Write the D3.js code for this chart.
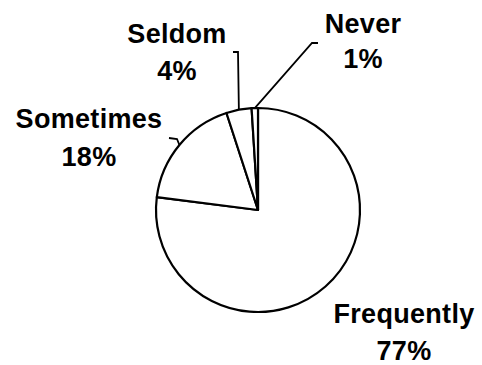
<!DOCTYPE html>
<html>
<head>
<meta charset="utf-8">
<script src="https://cdn.jsdelivr.net/npm/d3@7"></script>
<style>
  body { margin: 0; background: #fff; }
  text { font-family: "Liberation Sans", Arial, sans-serif; font-weight: bold; }
</style>
</head>
<body>
<div id="container"></div>
<script>
const categories = ["Frequently", "Sometimes", "Seldom", "Never"];
const values = [77, 18, 4, 1];
const percentLabels = ["77%", "18%", "4%", "1%"];

const width = 482;
const height = 365;
const cx = 258, cy = 210;
const radius = 102;
const fontSize = 27;

// where each label sits (center x, baseline of first line, line gap)
const labelPos = [
    { x: 404, y: 323, gap: 37 },
    { x: 89, y: 128, gap: 38 },
    { x: 177, y: 43, gap: 37 },
    { x: 363, y: 33, gap: 35 }
];
// leader line bends (from the slice edge outward), null = no leader
const leaderBends = [
    null,
    [[177, 139], [169, 138]],
    [[238, 52], [233, 52]],
    [[312, 43], [318, 43]]
];

let rows = categories.map((c, i) => ({ name: c, value: values[i], pct: percentLabels[i] }));

let pie = d3.pie()
    .sort(null)
    .value(d => d.value)
    .startAngle(0)
    .endAngle(2 * Math.PI);

let arc = d3.arc()
    .innerRadius(0)
    .outerRadius(radius);

let arcs = pie(rows);

let svg = d3.select("#container").append("svg")
    .attr("width", width)
    .attr("height", height);

let g = svg.append("g")
    .attr("transform", `translate(${cx},${cy})`);

g.selectAll("path")
    .data(arcs)
    .join("path")
    .attr("d", arc)
    .attr("fill", "#fff")
    .attr("stroke", "#000")
    .attr("stroke-width", 2.2)
    .attr("stroke-linejoin", "round");

// leader lines
arcs.forEach((a, i) => {
    if (!leaderBends[i]) return;
    let mid = (a.startAngle + a.endAngle) / 2;
    let sx = cx + radius * Math.sin(mid);
    let sy = cy - radius * Math.cos(mid);
    let pts = [[sx, sy]].concat(leaderBends[i]);
    svg.append("path")
        .attr("d", d3.line()(pts))
        .attr("fill", "none")
        .attr("stroke", "#000")
        .attr("stroke-width", 1.8);
});

let labels = svg.append("g")
    .attr("font-size", fontSize)
    .attr("text-anchor", "middle")
    .attr("fill", "#000");

rows.forEach((d, i) => {
    let p = labelPos[i];
    let t = labels.append("text")
        .attr("x", p.x)
        .attr("y", p.y)
        .attr("letter-spacing", 0.3);
    t.append("tspan").attr("x", p.x).attr("y", p.y).text(d.name);
    t.append("tspan").attr("x", p.x).attr("y", p.y + p.gap).text(d.pct);
});
</script>
</body>
</html>
